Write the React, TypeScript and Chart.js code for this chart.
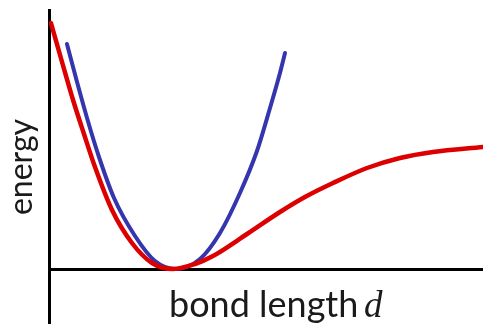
import React, { useEffect, useRef } from "react";
import { Chart, registerables } from "chart.js";

Chart.register(...registerables);

// Morse-like potential (red): bond length vs energy
const morseD = [0.023, 0.15, 0.277, 0.403, 0.53, 0.726, 0.956, 1.187, 1.429, 1.682, 1.889, 2.281, 2.661, 2.949, 3.272, 3.664, 4.044, 4.424, 5.0];
const morseE = [4.92, 4.14, 3.38, 2.7, 2.04, 1.18, 0.52, 0.12, 0.0, 0.1, 0.26, 0.7, 1.14, 1.44, 1.72, 2.02, 2.22, 2.34, 2.44];

// Harmonic approximation (blue)
const harmD = [0.207, 0.323, 0.438, 0.576, 0.749, 0.991, 1.221, 1.463, 1.74, 1.97, 2.2, 2.396, 2.546, 2.661, 2.719];
const harmE = [4.5, 3.74, 3.02, 2.24, 1.42, 0.66, 0.16, 0.0, 0.2, 0.72, 1.52, 2.36, 3.22, 3.92, 4.32];

const xLabel = "bond length";
const xLabelVar = "d";
const yLabel = "energy";

const toPoints = (xs: number[], ys: number[]) => xs.map((x, i) => ({ x, y: ys[i] }));

const labelPlugin = {
  id: "bondLabel",
  afterDraw(chart: any) {
    const { ctx, chartArea } = chart;
    ctx.save();
    ctx.fillStyle = "#1a1a1a";
    ctx.textBaseline = "alphabetic";
    ctx.textAlign = "left";
    const y0 = chartArea.bottom - 7;
    ctx.font = "36px Lato";
    ctx.fillText(xLabel, chartArea.left + 120, y0);
    ctx.font = "italic 37px 'Liberation Serif'";
    ctx.fillText(xLabelVar, chartArea.left + 315, y0);
    ctx.restore();
  },
};

export default function App() {
  const ref = useRef<HTMLCanvasElement | null>(null);
  useEffect(() => {
    if (!ref.current) return;
    const chart = new Chart(ref.current, {
      type: "line",
      data: {
        datasets: [
          {
            data: toPoints(morseD, morseE),
            borderColor: "#dd0000",
            borderWidth: 4.5,
            pointRadius: 0,
            cubicInterpolationMode: "monotone",
            borderCapStyle: "round",
            fill: false,
          },
          {
            data: toPoints(harmD, harmE),
            borderColor: "#3535ad",
            borderWidth: 4,
            pointRadius: 0,
            cubicInterpolationMode: "monotone",
            borderCapStyle: "round",
            fill: false,
          },
        ],
      },
      options: {
        responsive: false,
        animation: false,
        layout: { padding: { top: 10, left: 0, right: 0, bottom: 0 } },
        plugins: { legend: { display: false }, tooltip: { enabled: false } },
        scales: {
          x: {
            type: "linear",
            min: 0,
            max: 5,
            display: false,
          },
          y: {
            type: "linear",
            min: -1.1,
            max: 5.18,
            afterBuildTicks: (axis: any) => {
              axis.ticks = [{ value: 0 }];
            },
            ticks: { display: false },
            grid: {
              drawTicks: false,
              color: "#000000",
              lineWidth: 3,
            },
            border: { display: true, color: "#000000", width: 3 },
            title: {
              display: true,
              text: yLabel,
              color: "#1a1a1a",
              font: { family: "Lato", size: 32 },
              padding: { top: 2, bottom: 8.6 },
            },
          },
        },
      },
      plugins: [labelPlugin],
    });
    return () => chart.destroy();
  }, []);
  return (
    <div style={{ position: "fixed", left: 0, top: 0, width: 483, height: 324, background: "#fff" }}>
      <canvas ref={ref} width={483} height={324} style={{ display: "block", width: 483, height: 324 }} />
    </div>
  );
}
